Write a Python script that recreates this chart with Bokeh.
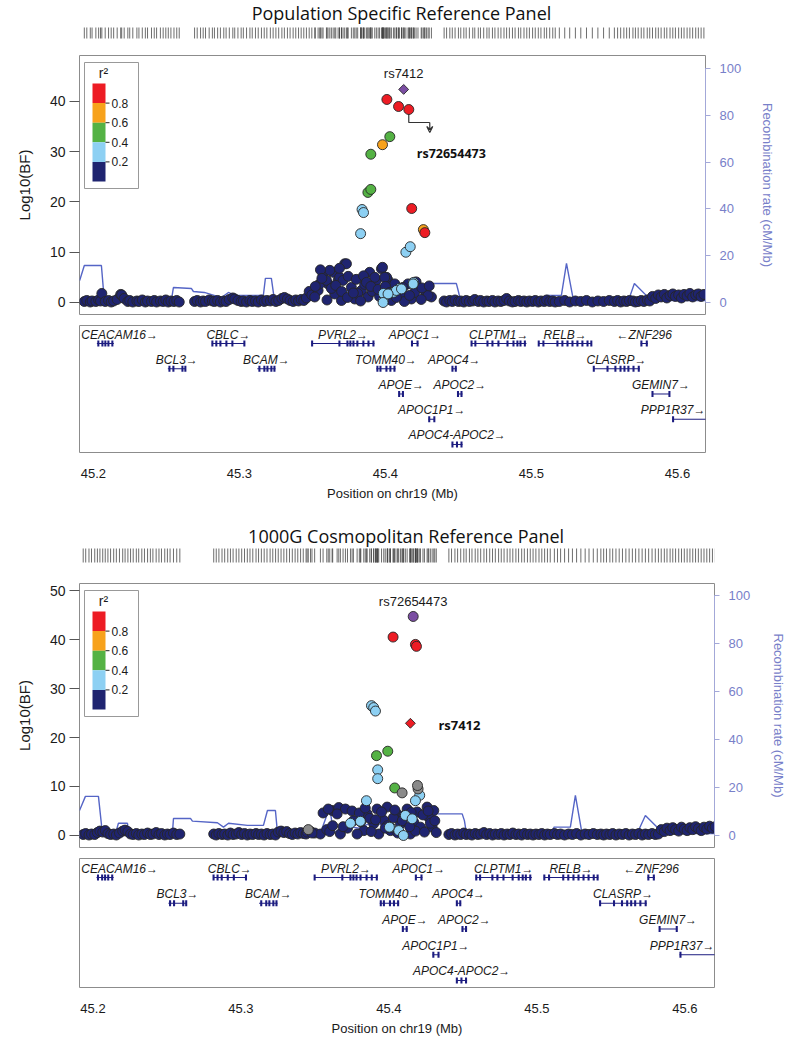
import math
from bokeh.plotting import figure
from bokeh.models import (Range1d, LinearAxis, FixedTicker, Label, Arrow, VeeHead,
                          NumeralTickFormatter)
from bokeh.layouts import column
from bokeh.embed import file_html
from bokeh.resources import INLINE
from bokeh.core.properties import value

# ---------------------------------------------------------------- data
PANEL_TITLES = ["Population Specific Reference Panel", "1000G Cosmopolitan Reference Panel"]
X_TICKS = [45.2, 45.3, 45.4, 45.5, 45.6]
Y_TICKS_POP = [0, 10, 20, 30, 40]
Y_TICKS_KG = [0, 10, 20, 30, 40, 50]
REC_TICKS = [0, 20, 40, 60, 80, 100]
R2_TICKS = [0.2, 0.4, 0.6, 0.8]
LD_PALETTE = ["#1f2470", "#8dd0f3", "#54b244", "#f7a21c", "#ed1c24"]   # r2 0-.2 ... .8-1
LEAD_COLOR = "#7b4ea3"
NO_LD_COLOR = "#8a8a8a"

# ---- Population specific panel: SNPs
POP_BAND_X = [45.1938, 45.1955, 45.1979, 45.1991, 45.2017, 45.2036, 45.2049, 45.2058, 45.2081, 45.2104,
              45.2122, 45.2139, 45.2163, 45.2187, 45.2194, 45.2211, 45.2236, 45.2249, 45.2270, 45.2298,
              45.2312, 45.2335, 45.2356, 45.2371, 45.2398, 45.2417, 45.2433, 45.2459, 45.2478, 45.2496,
              45.2513, 45.2531, 45.2552, 45.2571, 45.2588,
              45.2693, 45.2711, 45.2734, 45.2752, 45.2768, 45.2793, 45.2815, 45.2829, 45.2851, 45.2870,
              45.2893, 45.2909, 45.2931, 45.2955, 45.2968, 45.2990, 45.3012, 45.3027, 45.3049, 45.3072,
              45.3088, 45.3110, 45.3129, 45.3151, 45.3170, 45.3188, 45.3212, 45.3231, 45.3250, 45.3269,
              45.3291, 45.3308, 45.3329, 45.3347, 45.3368, 45.3386, 45.3405, 45.3423, 45.3441, 45.3459,
              45.3478, 45.3496,
              45.4402, 45.4419, 45.4441, 45.4458, 45.4477, 45.4500, 45.4516, 45.4537, 45.4553, 45.4575,
              45.4598, 45.4612, 45.4636, 45.4651, 45.4673, 45.4695, 45.4710, 45.4733, 45.4750, 45.4772,
              45.4791, 45.4812, 45.4830, 45.4849, 45.4870, 45.4888, 45.4911, 45.4927, 45.4949, 45.4968,
              45.4986, 45.5008, 45.5026, 45.5047, 45.5065, 45.5088, 45.5104, 45.5125, 45.5146, 45.5163,
              45.5191, 45.5228, 45.5262, 45.5301, 45.5338, 45.5377, 45.5417, 45.5455, 45.5494, 45.5533,
              45.5568, 45.5590, 45.5611, 45.5633, 45.5652, 45.5671, 45.5695, 45.5712, 45.5731, 45.5752,
              45.5770, 45.5793, 45.5810, 45.5829, 45.5851, 45.5869, 45.5888, 45.5910, 45.5927, 45.5949,
              45.5968, 45.5986, 45.6008, 45.6027, 45.6045, 45.6066, 45.6085, 45.6104, 45.6125, 45.6143,
              45.6162, 45.6181]
POP_BAND_Y = [0.2, 0.4, 0.1, 0.3, 0.2, 0.5, 0.3, 1.8, 0.2, 0.4,
              0.1, 0.3, 0.6, 1.6, 1.5, 0.8, 0.2, 0.4, 0.1, 0.3,
              0.2, 0.5, 0.1, 0.3, 0.2, 0.4, 0.1, 0.3, 0.2, 0.5,
              0.1, 0.3, 0.2, 0.4, 0.1,
              0.2, 0.4, 0.1, 0.3, 0.2, 0.5, 0.3, 0.2, 0.4, 0.1,
              0.3, 0.2, 0.6, 0.9, 0.7, 0.4, 0.2, 0.3, 0.1, 0.4,
              0.2, 0.3, 0.1, 0.5, 0.2, 0.4, 0.3, 0.6, 0.2, 0.4,
              0.8, 1.0, 0.7, 0.4, 0.2, 0.5, 0.3, 0.6, 0.4, 0.9,
              2.2, 1.5,
              0.3, 0.1, 0.4, 0.2, 0.5, 0.2, 0.3, 0.1, 0.4, 0.2,
              0.3, 0.6, 0.2, 0.4, 0.1, 0.3, 0.2, 0.4, 0.1, 0.3,
              0.2, 0.4, 0.8, 0.3, 0.1, 0.2, 0.4, 0.2, 0.3, 0.1,
              0.3, 0.2, 0.4, 0.1, 0.3, 0.2, 0.5, 0.2, 0.3, 0.1,
              0.2, 0.4, 0.1, 0.3, 0.2, 0.4, 0.1, 0.3, 0.2, 0.4,
              0.2, 0.4, 0.1, 0.3, 0.2, 0.4, 0.3, 0.1, 0.2, 0.4,
              0.2, 0.5, 0.3, 1.2, 0.8, 1.5, 1.1, 1.6, 0.9, 1.4,
              1.7, 1.2, 1.5, 0.9, 1.6, 1.3, 1.8, 1.1, 1.5, 1.7,
              1.2, 1.6]
POP_NAVY_X = [45.3573, 45.3642, 45.3721, 45.3676, 45.3607, 45.3539, 45.3516, 45.3767, 45.3836, 45.3892,
              45.3973, 45.3938, 45.4018, 45.4087, 45.4155, 45.4223, 45.4281, 45.4315, 45.3881, 45.3699,
              45.3790, 45.4041, 45.4178, 45.3653, 45.3619, 45.3686, 45.3733, 45.3550, 45.3596, 45.3710,
              45.3927, 45.4008, 45.4064, 45.3995, 45.4269, 45.4292, 45.3745, 45.3810, 45.3858, 45.3910,
              45.3960, 45.4110, 45.4200, 45.4245, 45.3600, 45.3830, 45.4130, 45.3555, 45.3685, 45.3980,
              45.3520, 45.3565, 45.3630, 45.3660, 45.3700, 45.3740, 45.3780, 45.3800, 45.3850, 45.3870,
              45.3900, 45.3950, 45.4000, 45.4030, 45.4075, 45.4120, 45.4165, 45.4210, 45.4250, 45.4300]
POP_NAVY_Y = [5.7, 6.0, 7.7, 4.4, 3.7, 2.4, 1.1, 3.0, 2.4, 6.0,
              6.7, 4.4, 4.4, 2.7, 3.7, 3.0, 1.7, 1.1, 1.1, 0.4,
              0.7, 0.4, 0.7, 1.7, 6.4, 5.0, 7.7, 3.7, 4.4, 4.4,
              5.0, 5.0, 3.7, 5.0, 2.4, 1.4, 5.2, 1.8, 3.6, 2.2,
              1.2, 1.5, 2.0, 0.6, 0.5, 0.3, 0.2, 6.5, 6.8, 7.0,
              3.2, 4.8, 2.8, 3.4, 2.2, 1.0, 1.9, 4.6, 5.3, 4.0,
              3.2, 2.6, 3.2, 2.0, 1.0, 3.0, 1.4, 4.1, 2.9, 3.3]
POP_LBLUE_X = [45.3986, 45.3986, 45.4055, 45.4096, 45.4192, 45.4075, 45.4110, 45.4018, 45.4190, 45.3984,
               45.3840, 45.3850, 45.3830, 45.4140, 45.4170]
POP_LBLUE_Y = [0.4, 1.8, 2.0, 2.8, 4.0, 2.4, 2.7, 1.7, 3.7, 0.0,
               18.5, 17.9, 13.7, 10.0, 11.1]
POP_GREEN_X = [45.4030, 45.3900, 45.3880, 45.3900]
POP_GREEN_Y = [33.0, 29.5, 21.9, 22.5]
POP_ORANGE_X = [45.3980, 45.4260]
POP_ORANGE_Y = [31.4, 14.5]
POP_RED_X = [45.4010, 45.4090, 45.4160, 45.4180, 45.4270]
POP_RED_Y = [40.4, 39.0, 38.4, 18.7, 13.9]
POP_RS7412 = (45.4125, 42.4)        # lead SNP (purple diamond)
POP_RS72654473 = (45.4160, 38.4)    # red, arrowed

POP_REC_X = [45.1906, 45.1938, 45.2055, 45.2075, 45.2534, 45.2548, 45.2671, 45.2685, 45.2760, 45.2877,
             45.2925, 45.2966, 45.3164, 45.3178, 45.3219, 45.3240, 45.3514, 45.3560, 45.3600, 45.3650,
             45.3750, 45.3900, 45.4000, 45.4100, 45.4200, 45.4280, 45.4295, 45.4486, 45.4500, 45.4514,
             45.5096, 45.5103, 45.5205, 45.5240, 45.5288, 45.5664, 45.5705, 45.5822, 45.6192]
POP_REC_Y = [9.4, 15.8, 15.8, 0.8, 0.8, 6.4, 6.0, 4.7, 4.3, 2.1,
             4.3, 3.0, 3.0, 10.3, 10.3, 1.0, 1.0, 9.4, 9.4, 3.0,
             5.0, 2.5, 6.0, 3.5, 2.0, 4.0, 8.1, 8.1, 4.7, 0.8,
             0.8, 3.0, 3.0, 16.7, 0.8, 0.8, 8.1, 0.8, 0.8]

# ---- 1000G cosmopolitan panel: SNPs
KG_BAND_X = [45.1934, 45.1951, 45.1973, 45.1990, 45.2012, 45.2030, 45.2047, 45.2066, 45.2083, 45.2101,
             45.2119, 45.2140, 45.2158, 45.2179, 45.2201, 45.2217, 45.2236, 45.2254, 45.2272, 45.2293,
             45.2309, 45.2330, 45.2348, 45.2369, 45.2388, 45.2405, 45.2427, 45.2446, 45.2463, 45.2485,
             45.2503, 45.2521, 45.2544, 45.2566, 45.2587,
             45.2816, 45.2833, 45.2851, 45.2872, 45.2890, 45.2911, 45.2929, 45.2947, 45.2968, 45.2986,
             45.3005, 45.3024, 45.3043, 45.3061, 45.3080, 45.3102, 45.3119, 45.3138, 45.3157, 45.3176,
             45.3197, 45.3215, 45.3234, 45.3252, 45.3271, 45.3290, 45.3309, 45.3328, 45.3347, 45.3366,
             45.3384, 45.3403, 45.3421, 45.3440, 45.3470, 45.3498,
             45.4405, 45.4423, 45.4446, 45.4464, 45.4485, 45.4506, 45.4522, 45.4544, 45.4561, 45.4583,
             45.4601, 45.4620, 45.4642, 45.4660, 45.4681, 45.4700, 45.4719, 45.4741, 45.4759, 45.4778,
             45.4799, 45.4818, 45.4837, 45.4858, 45.4876, 45.4897, 45.4915, 45.4936, 45.4955, 45.4974,
             45.4993, 45.5014, 45.5033, 45.5052, 45.5071, 45.5090, 45.5118, 45.5139, 45.5160, 45.5187,
             45.5214, 45.5240, 45.5268, 45.5297, 45.5326, 45.5352, 45.5381, 45.5408, 45.5432, 45.5451,
             45.5470, 45.5493, 45.5512, 45.5534, 45.5556, 45.5578, 45.5601, 45.5623, 45.5645, 45.5667,
             45.5689, 45.5711, 45.5733, 45.5755, 45.5778, 45.5800, 45.5821,
             45.5840, 45.5861, 45.5879, 45.5900, 45.5918, 45.5937, 45.5958, 45.5977, 45.5996, 45.6015,
             45.6034, 45.6053, 45.6072, 45.6091, 45.6110, 45.6129, 45.6148, 45.6167, 45.6186, 45.6205]
KG_BAND_Y = [0.2, 0.4, 0.1, 0.3, 0.2, 0.6, 0.9, 0.7, 1.0, 0.4,
             0.2, 0.3, 0.1, 0.5, 0.9, 1.1, 0.8, 0.3, 0.2, 0.4,
             0.1, 0.3, 0.2, 0.5, 0.2, 0.3, 0.6, 0.2, 0.4, 0.1,
             0.3, 0.2, 0.5, 0.2, 0.3,
             0.3, 0.1, 0.4, 0.2, 0.3, 0.1, 0.5, 0.2, 0.3, 0.6,
             0.2, 0.4, 0.1, 0.3, 0.2, 0.4, 0.2, 0.3, 0.1, 0.4,
             0.2, 0.3, 0.1, 0.7, 0.9, 0.6, 0.8, 0.4, 0.2, 0.5,
             0.3, 0.6, 0.4, 0.3, 0.8, 0.5,
             0.2, 0.4, 0.1, 0.3, 0.2, 0.5, 0.2, 0.3, 0.1, 0.4,
             0.2, 0.3, 0.6, 0.2, 0.4, 0.1, 0.3, 0.2, 0.4, 0.1,
             0.3, 0.2, 0.5, 0.2, 0.3, 0.1, 0.4, 0.2, 0.3, 0.1,
             0.3, 0.2, 0.4, 0.1, 0.3, 0.2, 0.4, 0.2, 0.3, 0.1,
             0.3, 0.2, 0.4, 0.1, 0.3, 0.2, 0.4, 0.2, 0.3, 0.1,
             0.3, 0.2, 0.4, 0.1, 0.3, 0.2, 0.4, 0.1, 0.3, 0.2,
             0.4, 0.1, 0.3, 0.2, 0.4, 0.2, 0.3,
             1.2, 0.8, 1.5, 1.0, 1.6, 1.2, 0.9, 1.7, 1.3, 1.0,
             1.6, 1.2, 1.8, 1.4, 1.0, 1.7, 1.3, 1.9, 1.5, 1.8]
KG_NAVY_X = [45.3616, 45.3661, 45.3706, 45.3751, 45.3650, 45.3853, 45.3920, 45.3988, 45.4055, 45.4123,
             45.4191, 45.4258, 45.4303, 45.4269, 45.3965, 45.3897, 45.4078, 45.4168, 45.4213, 45.4292,
             45.3830, 45.4010, 45.4145, 45.3931, 45.3785, 45.3672, 45.3537, 45.3447, 45.3580, 45.3720,
             45.3870, 45.3950, 45.4030, 45.4100, 45.4230, 45.4280, 45.4320, 45.3600, 45.4180, 45.4060,
             45.3990, 45.3810, 45.3555, 45.3590,
             45.3480, 45.3620, 45.3690, 45.3760, 45.3800, 45.3840, 45.3880, 45.3910, 45.3975, 45.4040,
             45.4090, 45.4140, 45.4150, 45.4240, 45.4265, 45.4310]
KG_NAVY_Y = [5.1, 5.7, 5.4, 5.0, 4.4, 4.4, 5.4, 5.8, 4.4, 5.4,
             4.8, 5.8, 5.1, 3.7, 3.1, 2.4, 2.4, 2.7, 1.7, 1.7,
             1.0, 1.0, 0.3, 0.3, 0.3, 0.3, 0.3, 0.7, 1.2, 1.5,
             3.5, 4.8, 3.6, 4.0, 4.2, 2.5, 0.6, 0.8, 0.9, 0.5,
             2.0, 2.8, 4.6, 5.4,
             0.5, 2.0, 1.8, 3.0, 4.6, 5.6, 0.8, 3.2, 1.5, 5.2,
             3.0, 1.8, 4.7, 0.7, 5.0, 3.0]
KG_LBLUE_X = [45.3882, 45.3897, 45.3909, 45.3924, 45.3924, 45.4208, 45.4179, 45.3848, 45.4111, 45.4157,
              45.4010, 45.4066, 45.4098, 45.3740, 45.3807, 45.4003]
KG_LBLUE_Y = [26.5, 26.1, 25.4, 13.4, 11.6, 8.2, 7.1, 7.1, 4.1, 3.4,
              1.7, 1.0, 0.0, 2.5, 2.9, 1.7]
KG_GREEN_X = [45.3992, 45.3916, 45.4039]
KG_GREEN_Y = [17.2, 16.3, 9.7]
KG_GRAY_X = [45.4089, 45.4197, 45.4193, 45.3455]
KG_GRAY_Y = [8.7, 9.5, 10.2, 1.2]
KG_RED_X = [45.4028, 45.4179, 45.4186]
KG_RED_Y = [40.5, 39.0, 38.6]
KG_RS7412 = (45.4145, 22.9)          # red diamond
KG_RS72654473 = (45.4164, 44.7)      # lead SNP (purple)

KG_REC_X = [45.1909, 45.1949, 45.2037, 45.2064, 45.2152, 45.2172, 45.2233, 45.2243, 45.2537, 45.2544,
            45.2659, 45.2672, 45.2841, 45.2882, 45.2916, 45.3044, 45.3152, 45.3179, 45.3233, 45.3247,
            45.3537, 45.3600, 45.3625, 45.3700, 45.3800, 45.3900, 45.4000, 45.4100, 45.4200, 45.4290,
            45.4314, 45.4495, 45.4510, 45.4524, 45.5111, 45.5115, 45.5226, 45.5260, 45.5305, 45.5677,
            45.5733, 45.5855, 45.6200]
KG_REC_Y = [10.4, 16.3, 16.3, 0.8, 0.8, 5.1, 5.1, 1.0, 1.0, 7.1,
            7.1, 6.0, 5.3, 3.5, 5.1, 4.2, 4.2, 10.4, 10.4, 1.0,
            1.0, 11.8, 1.0, 4.0, 3.0, 6.0, 2.5, 5.0, 3.0, 4.0,
            9.0, 9.0, 6.2, 0.8, 0.8, 3.5, 3.5, 16.7, 0.8, 0.8,
            8.3, 0.8, 0.8]

# ---- genes (hg19, Mb)
GENE_NAMES = ["CEACAM16", "BCL3", "CBLC", "BCAM", "PVRL2", "TOMM40", "APOE", "APOC1", "APOC1P1",
              "APOC4", "APOC4-APOC2", "APOC2", "CLPTM1", "RELB", "CLASRP", "ZNF296", "GEMIN7", "PPP1R37"]
GENE_START = [45.2024, 45.2510, 45.2811, 45.3123, 45.3494, 45.3938, 45.4090, 45.4179, 45.4295,
              45.4455, 45.4455, 45.4492, 45.4586, 45.5047, 45.5423, 45.5748, 45.5825, 45.5964]
GENE_END = [45.2140, 45.2633, 45.3039, 45.3247, 45.3925, 45.4069, 45.4127, 45.4226, 45.4340,
            45.4488, 45.4528, 45.4528, 45.4966, 45.5415, 45.5742, 45.5797, 45.5948, 45.6620]
GENE_STRAND = ["+", "+", "+", "+", "+", "+", "+", "+", "+",
               "+", "+", "+", "+", "+", "+", "-", "+", "+"]
GENE_ROW = [1, 2, 1, 2, 1, 2, 3, 1, 4, 2, 5, 3, 1, 1, 2, 1, 3, 4]
GENE_EXONS = [
    [45.2034, 45.2062, 45.2082, 45.2103, 45.2130],
    [45.2521, 45.2548, 45.2610, 45.2630],
    [45.2815, 45.2842, 45.2870, 45.2911, 45.2952, 45.3034],
    [45.3137, 45.3171, 45.3192, 45.3219, 45.3240],
    [45.3498, 45.3685, 45.3740, 45.3760, 45.3781, 45.3808, 45.3849, 45.3884, 45.3918],
    [45.3945, 45.3966, 45.4007, 45.4034, 45.4062],
    [45.4094, 45.4120],
    [45.4182, 45.4220],
    [45.4300, 45.4335],
    [45.4459, 45.4482],
    [45.4459, 45.4490, 45.4521],
    [45.4497, 45.4521],
    [45.4590, 45.4616, 45.4699, 45.4733, 45.4774, 45.4836, 45.4877, 45.4904, 45.4925, 45.4955],
    [45.5050, 45.5082, 45.5178, 45.5212, 45.5247, 45.5281, 45.5315, 45.5349, 45.5384, 45.5410],
    [45.5427, 45.5521, 45.5575, 45.5610, 45.5637, 45.5664, 45.5699, 45.5735],
    [45.5753, 45.5790],
    [45.5829, 45.5945],
    [45.5970],
]

# ---------------------------------------------------------------- style / layout
CANVAS_W = 785
FRAME_LEFT = 79
TEXT = "#1a1a1a"
OUTLINE = "#8c8c8c"
REC_LINE = "#5565c6"
REC_AXIS = "#a3a8d8"
REC_TEXT = "#7880c9"
GENE_COLOR = "#1c1c80"
BASE_FONT = "Liberation Sans"


def base_fig(xr, fw, fh, top, bottom, yr, xloc=None, yloc=None):
    f = figure(frame_width=fw, frame_height=fh, x_range=Range1d(*xr), y_range=Range1d(*yr),
               x_axis_location=xloc, y_axis_location=yloc, toolbar_location=None,
               output_backend="svg", min_border_left=FRAME_LEFT,
               min_border_right=CANVAS_W - FRAME_LEFT - fw, min_border_top=top, min_border_bottom=bottom)
    f.grid.visible = False
    f.background_fill_color = "white"
    f.border_fill_color = "white"
    return f


def title_fig(title, xr, fw, h, title_y, rug_lo, rug_hi, snp_x):
    f = base_fig(xr, fw, h, 0, 0, (0, h))
    f.outline_line_color = None
    f.segment(x0=snp_x, y0=rug_lo, x1=snp_x, y1=rug_hi, line_color="#3c3c3c",
              line_width=1, line_alpha=0.75)
    xmid = xr[0] + (322.0 / 626.0) * (xr[1] - xr[0])
    f.add_layout(Label(x=xmid, y=title_y, text=title, text_align="center", text_baseline="middle",
                       text_font="Open Sans", text_font_size="18px", text_color="#111111"))
    f.add_layout(Label(x=xr[0], y=(rug_lo + rug_hi) / 2.0, x_offset=-5, text="Plotted SNPs",
                       text_align="right", text_baseline="middle", text_font=BASE_FONT,
                       text_font_size="11px", text_color=TEXT))
    return f


def draw_ld_legend(p, xr, yr, fw, fh):
    sx = fw / (xr[1] - xr[0])
    sy = fh / (yr[1] - yr[0])

    def X(d):
        return xr[0] + d / sx

    def Y(d):
        return yr[1] - d / sy

    bar_top, bar_h = 28.0, 98.0
    p.quad(left=X(5), right=X(59), top=Y(7), bottom=Y(133), fill_color="white",
           line_color="#999999", line_width=1)
    n = len(LD_PALETTE)
    tops = [Y(bar_top + bar_h * i / n) for i in range(n)]
    bots = [Y(bar_top + bar_h * (i + 1) / n) for i in range(n)]
    p.quad(left=X(13), right=X(26), top=tops, bottom=bots, fill_color=LD_PALETTE[::-1],
           line_color=None)
    ty = [Y(bar_top + bar_h * (1.0 - t)) for t in R2_TICKS]
    p.segment(x0=X(26), x1=X(30), y0=ty, y1=ty, line_color="#222222", line_width=1)
    p.text(x=X(32), y=ty, text=["%.1f" % t for t in R2_TICKS], text_font=value(BASE_FONT),
           text_font_size="12px", text_color=TEXT, text_align="left", text_baseline="middle")
    p.text(x=[X(24)], y=[Y(17)], text=["r²"], text_font=value(BASE_FONT), text_font_size="14px",
           text_color=TEXT, text_align="center", text_baseline="middle")


def main_fig(xr, fw, fh, top, bottom, yr, rr, yticks, rec_x, rec_y, rec_title_standoff):
    p = base_fig(xr, fw, fh, top, bottom, yr, xloc=None, yloc="left")
    p.outline_line_color = OUTLINE
    ya = p.yaxis[0]
    ya.ticker = FixedTicker(ticks=yticks)
    ya.axis_label = "Log10(BF)"
    ya.axis_label_text_font = BASE_FONT
    ya.axis_label_text_font_size = "15px"
    ya.axis_label_text_font_style = "normal"
    ya.axis_label_text_color = TEXT
    ya.major_label_text_font = BASE_FONT
    ya.major_label_text_font_size = "14px"
    ya.major_label_text_color = TEXT
    ya.major_tick_out = 10
    ya.major_tick_in = 0
    ya.major_tick_line_color = "#555555"
    ya.minor_tick_line_color = None
    ya.axis_line_color = None
    ya.major_label_standoff = 4
    ya.axis_label_standoff = 14

    p.extra_y_ranges = {"rec": Range1d(*rr)}
    ra = LinearAxis(y_range_name="rec", ticker=FixedTicker(ticks=REC_TICKS), bounds=(0, 100),
                    axis_label="Recombination rate (cM/Mb)")
    ra.axis_line_color = REC_AXIS
    ra.major_tick_line_color = REC_AXIS
    ra.minor_tick_line_color = None
    ra.major_tick_out = 5
    ra.major_tick_in = 0
    ra.major_label_text_font = BASE_FONT
    ra.major_label_text_font_size = "13px"
    ra.major_label_text_color = REC_TEXT
    ra.major_label_standoff = 9
    ra.axis_label_text_font = BASE_FONT
    ra.axis_label_text_font_size = "13px"
    ra.axis_label_text_font_style = "normal"
    ra.axis_label_text_color = REC_TEXT
    ra.axis_label_standoff = rec_title_standoff
    p.add_layout(ra, "right")

    p.line(rec_x, rec_y, y_range_name="rec", line_color=REC_LINE, line_width=1.4)
    return p


def draw_snps(p, xs, ys, color, marker="circle", size=10, angle=0.0):
    n = min(len(xs), len(ys))
    p.scatter(x=xs[:n], y=ys[:n], marker=marker, size=size, angle=angle, fill_color=color,
              line_color="#262626", line_width=0.9)


def gene_fig(xr, fw, fh, top, bottom, gyr):
    g = base_fig(xr, fw, fh, top, bottom, gyr, xloc="below", yloc=None)
    g.outline_line_color = OUTLINE
    xa = g.xaxis[0]
    xa.ticker = FixedTicker(ticks=X_TICKS)
    xa.formatter = NumeralTickFormatter(format="0.0")
    xa.axis_label = "Position on chr19 (Mb)"
    xa.axis_label_text_font = BASE_FONT
    xa.axis_label_text_font_size = "13px"
    xa.axis_label_text_font_style = "normal"
    xa.axis_label_text_color = TEXT
    xa.major_label_text_font = BASE_FONT
    xa.major_label_text_font_size = "13px"
    xa.major_label_text_color = TEXT
    xa.major_tick_out = 0
    xa.major_tick_in = 0
    xa.major_tick_line_color = None
    xa.minor_tick_line_color = None
    xa.axis_line_color = None
    xa.major_label_standoff = 16
    xa.axis_label_standoff = 5

    scale = fw / (xr[1] - xr[0])
    labels, lab_x = [], []
    for name, st, en, strand in zip(GENE_NAMES, GENE_START, GENE_END, GENE_STRAND):
        lab = name + "→" if strand == "+" else "←" + name
        w = 7.6 * len(lab)
        mid = (max(st, xr[0]) + min(en, xr[1])) / 2.0
        lo = xr[0] + (w / 2 + 6) / scale
        hi = xr[1] - (w / 2 + 2) / scale
        labels.append(lab)
        lab_x.append(min(max(mid, lo), hi))

    g.segment(x0=GENE_START, y0=GENE_ROW, x1=GENE_END, y1=GENE_ROW, line_color=GENE_COLOR, line_width=1)
    ex_x, ex_r = [], []
    for exons, row in zip(GENE_EXONS, GENE_ROW):
        for e in exons:
            ex_x.append(e)
            ex_r.append(row)
    g.rect(x=ex_x, y=ex_r, width=0.0014, height=6, height_units="screen",
           fill_color=GENE_COLOR, line_color=None)
    g.text(x=lab_x, y=GENE_ROW, text=labels, text_font=value(BASE_FONT), text_font_style="italic",
           text_font_size="12px", text_color=TEXT, text_align="center", text_baseline="middle",
           y_offset=-9)
    return g


# ---------------------------------------------------------------- top panel
X_RANGE_POP = (45.1905, 45.6192)
FW_POP = 626
FH_POP = 259
Y_RANGE_POP = (-2.39, 49.15)
REC_RANGE_POP = (-5.13, 105.6)

pop_all_x = (POP_BAND_X + POP_NAVY_X + POP_LBLUE_X + POP_GREEN_X + POP_ORANGE_X + POP_RED_X
             + [POP_RS7412[0]])
t1 = title_fig(PANEL_TITLES[0], X_RANGE_POP, FW_POP, 53, 41, 15, 26, pop_all_x)

m1 = main_fig(X_RANGE_POP, FW_POP, FH_POP, 2, 6, Y_RANGE_POP, REC_RANGE_POP, Y_TICKS_POP,
              POP_REC_X, POP_REC_Y, 16)
sx1 = FW_POP / (X_RANGE_POP[1] - X_RANGE_POP[0])
sy1 = FH_POP / (Y_RANGE_POP[1] - Y_RANGE_POP[0])
ax, ay = POP_RS72654473
m1.line([ax, ax, ax + 21 / sx1], [ay, ay - 13 / sy1, ay - 13 / sy1], line_color="#333333", line_width=1.2)
m1.add_layout(Arrow(end=VeeHead(size=6, line_color="#333333", line_width=1.2, fill_color=None),
                    x_start=ax + 21 / sx1, y_start=ay - 13 / sy1, x_end=ax + 21 / sx1,
                    y_end=ay - 23 / sy1, line_color="#333333", line_width=1.2))
draw_snps(m1, POP_BAND_X, POP_BAND_Y, LD_PALETTE[0])
draw_snps(m1, POP_NAVY_X, POP_NAVY_Y, LD_PALETTE[0])
draw_snps(m1, POP_LBLUE_X, POP_LBLUE_Y, LD_PALETTE[1])
draw_snps(m1, POP_GREEN_X, POP_GREEN_Y, LD_PALETTE[2])
draw_snps(m1, POP_ORANGE_X, POP_ORANGE_Y, LD_PALETTE[3])
draw_snps(m1, POP_RED_X, POP_RED_Y, LD_PALETTE[4])
draw_snps(m1, [POP_RS7412[0]], [POP_RS7412[1]], LEAD_COLOR, marker="square", size=7, angle=math.pi / 4)
m1.text(x=[POP_RS7412[0]], y=[POP_RS7412[1]], text=["rs7412"], y_offset=-16,
        text_font=value(BASE_FONT), text_font_size="13px", text_color=TEXT,
        text_align="center", text_baseline="middle")
m1.text(x=[ax], y=[ay], text=["rs72654473"], x_offset=8, y_offset=44,
        text_font=value("Open Sans"), text_font_style="bold", text_font_size="12.5px",
        text_color="#111111", text_align="left", text_baseline="middle")
draw_ld_legend(m1, X_RANGE_POP, Y_RANGE_POP, FW_POP, FH_POP)

g1 = gene_fig(X_RANGE_POP, FW_POP, 127, 5, 60, (5.317, 0.287))

# ---------------------------------------------------------------- bottom panel
X_RANGE_KG = (45.1909, 45.6200)
FW_KG = 635
FH_KG = 264
Y_RANGE_KG = (-2.45, 51.43)
REC_RANGE_KG = (-5.0, 105.0)

kg_all_x = (KG_BAND_X + KG_NAVY_X + KG_LBLUE_X + KG_GREEN_X + KG_GRAY_X + KG_RED_X
            + [KG_RS7412[0], KG_RS72654473[0]])
t2 = title_fig(PANEL_TITLES[1], X_RANGE_KG, FW_KG, 69, 46, 19, 33, kg_all_x)

m2 = main_fig(X_RANGE_KG, FW_KG, FH_KG, 2, 5, Y_RANGE_KG, REC_RANGE_KG, Y_TICKS_KG,
              KG_REC_X, KG_REC_Y, 18)
draw_snps(m2, KG_BAND_X, KG_BAND_Y, LD_PALETTE[0])
draw_snps(m2, KG_NAVY_X, KG_NAVY_Y, LD_PALETTE[0])
draw_snps(m2, KG_LBLUE_X, KG_LBLUE_Y, LD_PALETTE[1])
draw_snps(m2, KG_GREEN_X, KG_GREEN_Y, LD_PALETTE[2])
draw_snps(m2, KG_GRAY_X, KG_GRAY_Y, NO_LD_COLOR)
draw_snps(m2, KG_RED_X, KG_RED_Y, LD_PALETTE[4])
draw_snps(m2, [KG_RS7412[0]], [KG_RS7412[1]], LD_PALETTE[4], marker="square", size=7, angle=math.pi / 4)
draw_snps(m2, [KG_RS72654473[0]], [KG_RS72654473[1]], LEAD_COLOR)
m2.text(x=[KG_RS72654473[0]], y=[KG_RS72654473[1]], text=["rs72654473"], y_offset=-15,
        text_font=value(BASE_FONT), text_font_size="13px", text_color=TEXT,
        text_align="center", text_baseline="middle")
m2.text(x=[KG_RS7412[0]], y=[KG_RS7412[1]], text=["rs7412"], x_offset=28, y_offset=2,
        text_font=value("Open Sans"), text_font_style="bold", text_font_size="13px",
        text_color="#111111", text_align="left", text_baseline="middle")
draw_ld_legend(m2, X_RANGE_KG, Y_RANGE_KG, FW_KG, FH_KG)

g2 = gene_fig(X_RANGE_KG, FW_KG, 129, 6, 52, (5.272, 0.262))

layout = column(t1, m1, g1, t2, m2, g2)
html = file_html(layout, INLINE, title="LocusZoom APOE region")
with open("out.html", "w") as fh:
    fh.write(html)
